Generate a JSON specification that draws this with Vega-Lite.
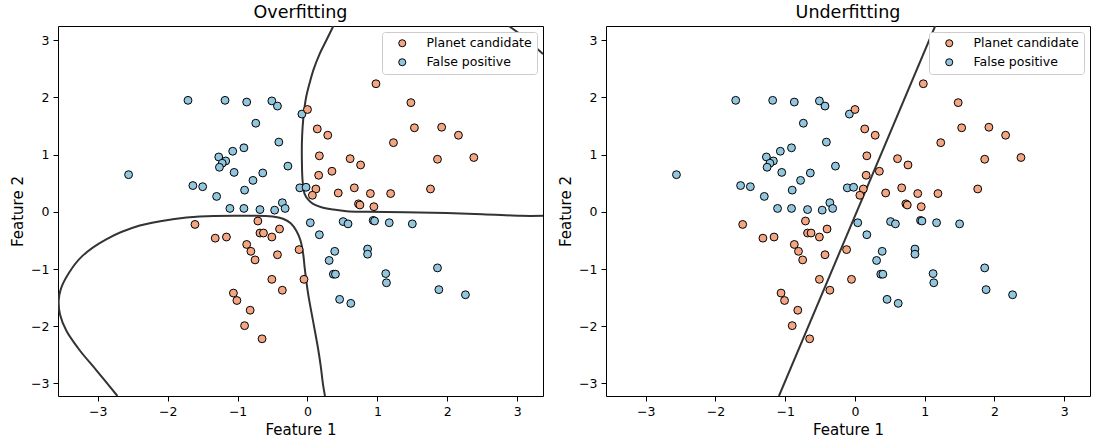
{
  "$schema": "https://vega.github.io/schema/vega-lite/v6.json",
  "padding": {"left": 10, "top": 3, "right": 4, "bottom": 4},
  "config": {
    "font": "DejaVu Sans",
    "view": {"stroke": "black", "strokeWidth": 1},
    "axis": {"grid": false, "domain": false, "tickColor": "black", "tickSize": 5, "tickWidth": 1, "labelFontSize": 12.5, "labelColor": "black", "labelPadding": 4, "titleFontSize": 15, "titleFontWeight": "normal", "titleColor": "black"},
    "axisX": {"titlePadding": 5},
    "axisY": {"titlePadding": 5},
    "title": {"fontSize": 17.5, "fontWeight": "normal", "color": "black", "offset": 5},
    "concat": {"spacing": 14}
  },
  "datasets": {
    "points": [
      {"x": -1.71, "y": 1.95, "cls": "False positive"},
      {"x": -1.18, "y": 1.95, "cls": "False positive"},
      {"x": -0.87, "y": 1.92, "cls": "False positive"},
      {"x": -0.51, "y": 1.94, "cls": "False positive"},
      {"x": -0.43, "y": 1.85, "cls": "False positive"},
      {"x": -0.08, "y": 1.71, "cls": "False positive"},
      {"x": -0.74, "y": 1.55, "cls": "False positive"},
      {"x": -0.41, "y": 1.22, "cls": "False positive"},
      {"x": -0.91, "y": 1.12, "cls": "False positive"},
      {"x": -1.07, "y": 1.06, "cls": "False positive"},
      {"x": -1.27, "y": 0.96, "cls": "False positive"},
      {"x": -1.17, "y": 0.89, "cls": "False positive"},
      {"x": -1.22, "y": 0.85, "cls": "False positive"},
      {"x": -1.26, "y": 0.78, "cls": "False positive"},
      {"x": -0.28, "y": 0.80, "cls": "False positive"},
      {"x": -1.05, "y": 0.69, "cls": "False positive"},
      {"x": -0.64, "y": 0.68, "cls": "False positive"},
      {"x": -2.56, "y": 0.65, "cls": "False positive"},
      {"x": -1.64, "y": 0.46, "cls": "False positive"},
      {"x": -1.50, "y": 0.44, "cls": "False positive"},
      {"x": -0.78, "y": 0.55, "cls": "False positive"},
      {"x": -0.90, "y": 0.38, "cls": "False positive"},
      {"x": -1.30, "y": 0.27, "cls": "False positive"},
      {"x": -0.11, "y": 0.42, "cls": "False positive"},
      {"x": -0.02, "y": 0.43, "cls": "False positive"},
      {"x": -1.11, "y": 0.06, "cls": "False positive"},
      {"x": -0.91, "y": 0.06, "cls": "False positive"},
      {"x": -0.68, "y": 0.04, "cls": "False positive"},
      {"x": -0.47, "y": 0.03, "cls": "False positive"},
      {"x": -0.36, "y": 0.16, "cls": "False positive"},
      {"x": -0.32, "y": 0.06, "cls": "False positive"},
      {"x": 0.04, "y": -0.19, "cls": "False positive"},
      {"x": 0.51, "y": -0.17, "cls": "False positive"},
      {"x": 0.58, "y": -0.21, "cls": "False positive"},
      {"x": 0.94, "y": -0.15, "cls": "False positive"},
      {"x": 0.96, "y": -0.16, "cls": "False positive"},
      {"x": 1.17, "y": -0.19, "cls": "False positive"},
      {"x": 1.50, "y": -0.21, "cls": "False positive"},
      {"x": 0.17, "y": -0.40, "cls": "False positive"},
      {"x": 0.39, "y": -0.69, "cls": "False positive"},
      {"x": 0.31, "y": -0.85, "cls": "False positive"},
      {"x": 0.86, "y": -0.65, "cls": "False positive"},
      {"x": 0.86, "y": -0.74, "cls": "False positive"},
      {"x": 0.37, "y": -1.09, "cls": "False positive"},
      {"x": 0.40, "y": -1.09, "cls": "False positive"},
      {"x": 1.12, "y": -1.08, "cls": "False positive"},
      {"x": 1.13, "y": -1.24, "cls": "False positive"},
      {"x": 1.86, "y": -0.98, "cls": "False positive"},
      {"x": 1.88, "y": -1.36, "cls": "False positive"},
      {"x": 2.26, "y": -1.45, "cls": "False positive"},
      {"x": 0.46, "y": -1.53, "cls": "False positive"},
      {"x": 0.62, "y": -1.60, "cls": "False positive"},
      {"x": 0.98, "y": 2.24, "cls": "Planet candidate"},
      {"x": 1.48, "y": 1.91, "cls": "Planet candidate"},
      {"x": 0.00, "y": 1.79, "cls": "Planet candidate"},
      {"x": 0.14, "y": 1.45, "cls": "Planet candidate"},
      {"x": 0.29, "y": 1.34, "cls": "Planet candidate"},
      {"x": 1.53, "y": 1.47, "cls": "Planet candidate"},
      {"x": 1.92, "y": 1.48, "cls": "Planet candidate"},
      {"x": 2.16, "y": 1.34, "cls": "Planet candidate"},
      {"x": 1.23, "y": 1.21, "cls": "Planet candidate"},
      {"x": 0.17, "y": 0.98, "cls": "Planet candidate"},
      {"x": 0.61, "y": 0.93, "cls": "Planet candidate"},
      {"x": 0.76, "y": 0.82, "cls": "Planet candidate"},
      {"x": 1.86, "y": 0.92, "cls": "Planet candidate"},
      {"x": 2.38, "y": 0.95, "cls": "Planet candidate"},
      {"x": 0.35, "y": 0.71, "cls": "Planet candidate"},
      {"x": 0.16, "y": 0.64, "cls": "Planet candidate"},
      {"x": 0.12, "y": 0.40, "cls": "Planet candidate"},
      {"x": 0.07, "y": 0.29, "cls": "Planet candidate"},
      {"x": 0.67, "y": 0.42, "cls": "Planet candidate"},
      {"x": 0.44, "y": 0.33, "cls": "Planet candidate"},
      {"x": 0.90, "y": 0.32, "cls": "Planet candidate"},
      {"x": 1.19, "y": 0.32, "cls": "Planet candidate"},
      {"x": 1.76, "y": 0.40, "cls": "Planet candidate"},
      {"x": 0.73, "y": 0.14, "cls": "Planet candidate"},
      {"x": 0.75, "y": 0.12, "cls": "Planet candidate"},
      {"x": 0.95, "y": 0.09, "cls": "Planet candidate"},
      {"x": -1.61, "y": -0.22, "cls": "Planet candidate"},
      {"x": -0.71, "y": -0.16, "cls": "Planet candidate"},
      {"x": -1.32, "y": -0.46, "cls": "Planet candidate"},
      {"x": -1.16, "y": -0.44, "cls": "Planet candidate"},
      {"x": -0.68, "y": -0.37, "cls": "Planet candidate"},
      {"x": -0.63, "y": -0.37, "cls": "Planet candidate"},
      {"x": -0.51, "y": -0.44, "cls": "Planet candidate"},
      {"x": -0.40, "y": -0.30, "cls": "Planet candidate"},
      {"x": -0.87, "y": -0.57, "cls": "Planet candidate"},
      {"x": -0.81, "y": -0.69, "cls": "Planet candidate"},
      {"x": -0.75, "y": -0.84, "cls": "Planet candidate"},
      {"x": -0.43, "y": -0.75, "cls": "Planet candidate"},
      {"x": -0.12, "y": -0.66, "cls": "Planet candidate"},
      {"x": -0.51, "y": -1.18, "cls": "Planet candidate"},
      {"x": -0.05, "y": -1.18, "cls": "Planet candidate"},
      {"x": -0.36, "y": -1.37, "cls": "Planet candidate"},
      {"x": -1.06, "y": -1.42, "cls": "Planet candidate"},
      {"x": -1.01, "y": -1.55, "cls": "Planet candidate"},
      {"x": -0.82, "y": -1.72, "cls": "Planet candidate"},
      {"x": -0.90, "y": -1.99, "cls": "Planet candidate"},
      {"x": -0.65, "y": -2.22, "cls": "Planet candidate"}
    ],
    "over_lines": [
      {"curve": "A", "i": 1, "x": 0.37, "y": 3.25},
      {"curve": "A", "i": 2, "x": 0.27, "y": 3.0},
      {"curve": "A", "i": 3, "x": 0.17, "y": 2.75},
      {"curve": "A", "i": 4, "x": 0.09, "y": 2.5},
      {"curve": "A", "i": 5, "x": 0.03, "y": 2.25},
      {"curve": "A", "i": 6, "x": -0.02, "y": 2.0},
      {"curve": "A", "i": 7, "x": -0.05, "y": 1.75},
      {"curve": "A", "i": 8, "x": -0.07, "y": 1.48},
      {"curve": "A", "i": 9, "x": -0.08, "y": 1.2},
      {"curve": "A", "i": 10, "x": -0.08, "y": 0.89},
      {"curve": "A", "i": 11, "x": -0.07, "y": 0.54},
      {"curve": "A", "i": 12, "x": -0.04, "y": 0.31},
      {"curve": "A", "i": 13, "x": 0.02, "y": 0.2},
      {"curve": "A", "i": 14, "x": 0.08, "y": 0.14},
      {"curve": "A", "i": 15, "x": 0.2, "y": 0.08},
      {"curve": "A", "i": 16, "x": 0.37, "y": 0.04},
      {"curve": "A", "i": 17, "x": 0.56, "y": 0.01},
      {"curve": "A", "i": 18, "x": 0.85, "y": 0.0},
      {"curve": "A", "i": 19, "x": 1.6, "y": -0.01},
      {"curve": "A", "i": 20, "x": 2.5, "y": -0.04},
      {"curve": "A", "i": 21, "x": 3.05, "y": -0.07},
      {"curve": "A", "i": 22, "x": 3.37, "y": -0.07},
      {"curve": "B", "i": 1, "x": -2.72, "y": -3.22},
      {"curve": "B", "i": 2, "x": -3.02, "y": -2.77},
      {"curve": "B", "i": 3, "x": -3.26, "y": -2.42},
      {"curve": "B", "i": 4, "x": -3.45, "y": -2.08},
      {"curve": "B", "i": 5, "x": -3.54, "y": -1.8},
      {"curve": "B", "i": 6, "x": -3.56, "y": -1.55},
      {"curve": "B", "i": 7, "x": -3.53, "y": -1.35},
      {"curve": "B", "i": 8, "x": -3.41, "y": -1.06},
      {"curve": "B", "i": 9, "x": -3.22, "y": -0.77},
      {"curve": "B", "i": 10, "x": -2.88, "y": -0.48},
      {"curve": "B", "i": 11, "x": -2.4, "y": -0.24},
      {"curve": "B", "i": 12, "x": -1.93, "y": -0.13},
      {"curve": "B", "i": 13, "x": -1.54, "y": -0.08},
      {"curve": "B", "i": 14, "x": -0.83, "y": -0.07},
      {"curve": "B", "i": 15, "x": -0.5, "y": -0.08},
      {"curve": "B", "i": 16, "x": -0.35, "y": -0.12},
      {"curve": "B", "i": 17, "x": -0.24, "y": -0.2},
      {"curve": "B", "i": 18, "x": -0.16, "y": -0.33},
      {"curve": "B", "i": 19, "x": -0.1, "y": -0.5},
      {"curve": "B", "i": 20, "x": -0.06, "y": -0.75},
      {"curve": "B", "i": 21, "x": -0.04, "y": -0.98},
      {"curve": "B", "i": 22, "x": 0.01, "y": -1.44},
      {"curve": "B", "i": 23, "x": 0.08, "y": -1.91},
      {"curve": "B", "i": 24, "x": 0.15, "y": -2.38},
      {"curve": "B", "i": 25, "x": 0.19, "y": -2.7},
      {"curve": "B", "i": 26, "x": 0.22, "y": -3.0},
      {"curve": "B", "i": 27, "x": 0.25, "y": -3.22},
      {"curve": "C", "i": 1, "x": 2.88, "y": 3.25},
      {"curve": "C", "i": 2, "x": 3.05, "y": 3.1},
      {"curve": "C", "i": 3, "x": 3.2, "y": 2.95},
      {"curve": "C", "i": 4, "x": 3.37, "y": 2.76}
    ],
    "under_lines": [
      {"curve": "L", "i": 1, "x": -1.09, "y": -3.22},
      {"curve": "L", "i": 2, "x": 1.15, "y": 3.25}
    ]
  },
  "resolve": {"legend": {"color": "independent"}},
  "hconcat": [
    {
      "title": "Overfitting",
      "width": 485,
      "height": 370,
      "encoding": {
        "x": {"field": "x", "type": "quantitative", "scale": {"domain": [-3.57, 3.37], "nice": false, "zero": false}, "axis": {"values": [-3, -2, -1, 0, 1, 2, 3], "title": "Feature 1"}},
        "y": {"field": "y", "type": "quantitative", "scale": {"domain": [-3.22, 3.25], "nice": false, "zero": false}, "axis": {"values": [-3, -2, -1, 0, 1, 2, 3], "title": "Feature 2"}}
      },
      "layer": [
        {
          "data": {"name": "over_lines"},
          "mark": {"type": "line", "color": "#333333", "strokeWidth": 2, "clip": true, "interpolate": "catmull-rom"},
          "encoding": {"detail": {"field": "curve"}, "order": {"field": "i", "type": "quantitative"}}
        },
        {
          "data": {"name": "points"},
          "mark": {"type": "circle", "size": 62, "opacity": 1, "stroke": "black", "strokeWidth": 1},
          "encoding": {
            "color": {"field": "cls", "type": "nominal", "scale": {"domain": ["Planet candidate", "False positive"], "range": ["#f4a582", "#92c5de"]},
              "legend": {"title": null, "orient": "top-right", "offset": 6, "fillColor": "white", "strokeColor": "#cccccc", "cornerRadius": 3, "padding": 5, "labelFontSize": 12.5, "labelColor": "black", "symbolType": "circle", "symbolSize": 50, "symbolStrokeColor": "black", "symbolStrokeWidth": 1, "symbolOffset": 9, "labelOffset": 18, "rowPadding": 6}}
          }
        }
      ]
    },
    {
      "title": "Underfitting",
      "width": 484,
      "height": 370,
      "encoding": {
        "x": {"field": "x", "type": "quantitative", "scale": {"domain": [-3.57, 3.37], "nice": false, "zero": false}, "axis": {"values": [-3, -2, -1, 0, 1, 2, 3], "title": "Feature 1"}},
        "y": {"field": "y", "type": "quantitative", "scale": {"domain": [-3.22, 3.25], "nice": false, "zero": false}, "axis": {"values": [-3, -2, -1, 0, 1, 2, 3], "title": "Feature 2"}}
      },
      "layer": [
        {
          "data": {"name": "under_lines"},
          "mark": {"type": "line", "color": "#333333", "strokeWidth": 2, "clip": true},
          "encoding": {"detail": {"field": "curve"}, "order": {"field": "i", "type": "quantitative"}}
        },
        {
          "data": {"name": "points"},
          "mark": {"type": "circle", "size": 62, "opacity": 1, "stroke": "black", "strokeWidth": 1},
          "encoding": {
            "color": {"field": "cls", "type": "nominal", "scale": {"domain": ["Planet candidate", "False positive"], "range": ["#f4a582", "#92c5de"]},
              "legend": {"title": null, "orient": "top-right", "offset": 6, "fillColor": "white", "strokeColor": "#cccccc", "cornerRadius": 3, "padding": 5, "labelFontSize": 12.5, "labelColor": "black", "symbolType": "circle", "symbolSize": 50, "symbolStrokeColor": "black", "symbolStrokeWidth": 1, "symbolOffset": 9, "labelOffset": 18, "rowPadding": 6}}
          }
        }
      ]
    }
  ]
}
